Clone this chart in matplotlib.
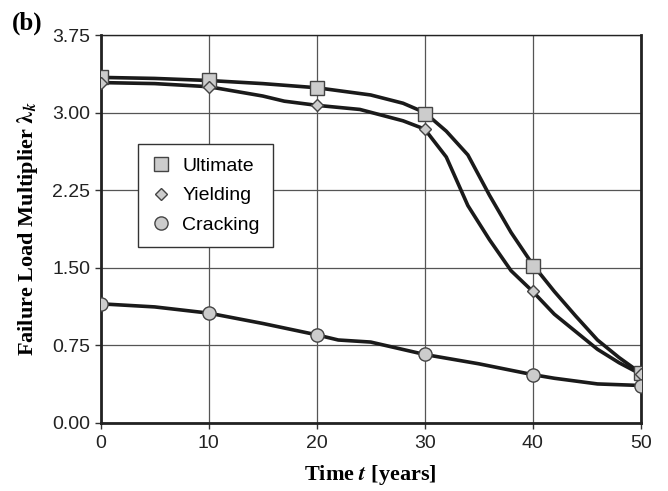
import numpy as np
import matplotlib
matplotlib.use("Agg")
import matplotlib.pyplot as plt

# --- dane ---
years = [0, 10, 20, 30, 40, 50]
ultimate_pts = [3.34, 3.31, 3.24, 2.99, 1.52, 0.48]
yielding_pts = [3.29, 3.25, 3.07, 2.84, 1.27, 0.47]
cracking_pts = [1.15, 1.06, 0.85, 0.665, 0.465, 0.355]

# gładkie krzywe (odczytane punkty pośrednie)
ult_x = [0, 5, 10, 15, 20, 25, 28, 30, 32, 34, 36, 38, 40, 42, 44, 46, 48, 50]
ult_y = [3.34, 3.33, 3.31, 3.28, 3.24, 3.17, 3.09, 3.00, 2.82, 2.59, 2.20, 1.84,
         1.53, 1.27, 1.03, 0.80, 0.63, 0.48]
yld_x = [0, 5, 10, 15, 17, 20, 24, 28, 30, 32, 34, 36, 38, 40, 42, 44, 46, 48, 50]
yld_y = [3.29, 3.28, 3.25, 3.16, 3.11, 3.07, 3.03, 2.92, 2.84, 2.57, 2.10, 1.77,
         1.47, 1.27, 1.05, 0.88, 0.71, 0.58, 0.47]
crk_x = [0, 5, 10, 15, 20, 22, 25, 30, 35, 40, 42, 46, 50]
crk_y = [1.15, 1.12, 1.06, 0.96, 0.85, 0.80, 0.78, 0.66, 0.57, 0.465, 0.43, 0.375, 0.36]

x_ticks = [0, 10, 20, 30, 40, 50]
y_ticks = [0.00, 0.75, 1.50, 2.25, 3.00, 3.75]

plt.rcParams["font.family"] = ["Liberation Sans", "DejaVu Sans"]
plt.rcParams["mathtext.fontset"] = "stix"

fig = plt.figure(figsize=(6.68, 4.91), dpi=100)
ax = fig.add_axes([0.1507, 0.1391, 0.8084, 0.7896])

line_kw = dict(color="#1a1a1a", lw=2.6, zorder=3)
mark_kw = dict(ls="none", mfc="#cccccc", mec="#444444", mew=1.0, zorder=4)

ax.plot(ult_x, ult_y, **line_kw)
ax.plot(yld_x, yld_y, **line_kw)
ax.plot(crk_x, crk_y, **line_kw)

ax.plot(years, ultimate_pts, marker="s", ms=9.5, label="Ultimate", **mark_kw)
ax.plot(years, yielding_pts, marker="D", ms=6.3, label="Yielding", **mark_kw)
ax.plot(years, cracking_pts, marker="o", ms=9.5, label="Cracking", **mark_kw)

ax.set_xlim(0, 50)
ax.set_ylim(0, 3.75)
ax.set_xticks(x_ticks)
ax.set_yticks(y_ticks)
ax.set_yticklabels([f"{v:.2f}" for v in y_ticks])
ax.tick_params(direction="out", length=4, width=1, labelsize=14, color="#333333",
               labelcolor="#222222")
ax.tick_params(axis="x", pad=5)
ax.grid(True, color="#555555", lw=0.9, zorder=1)
ax.set_axisbelow(True)

for side, w in [("left", 2.0), ("bottom", 2.0), ("top", 1.0), ("right", 2.0)]:
    ax.spines[side].set_linewidth(w)
    ax.spines[side].set_color("#222222")

lab_font = dict(family=["Liberation Serif", "DejaVu Serif"], weight="bold", size=16)
ax.set_xlabel(r"Time $\boldsymbol{t}$ [years]", labelpad=8, **lab_font)
ax.set_ylabel(r"Failure Load Multiplier $\boldsymbol{\lambda}_{\boldsymbol{k}}$",
              labelpad=9, **lab_font)

fig.text(0.018, 0.953, "(b)", family=["Liberation Serif", "DejaVu Serif"],
         weight="bold", size=18, va="center")

leg = ax.legend(loc="upper left", bbox_to_anchor=(0.0685, 0.719), borderaxespad=0,
                fancybox=False, edgecolor="#333333", framealpha=1, fontsize=14,
                handlelength=1.0, handletextpad=0.6, labelspacing=0.6,
                borderpad=0.7)
leg.get_frame().set_linewidth(1.0)

fig.savefig("out.png", dpi=100)
